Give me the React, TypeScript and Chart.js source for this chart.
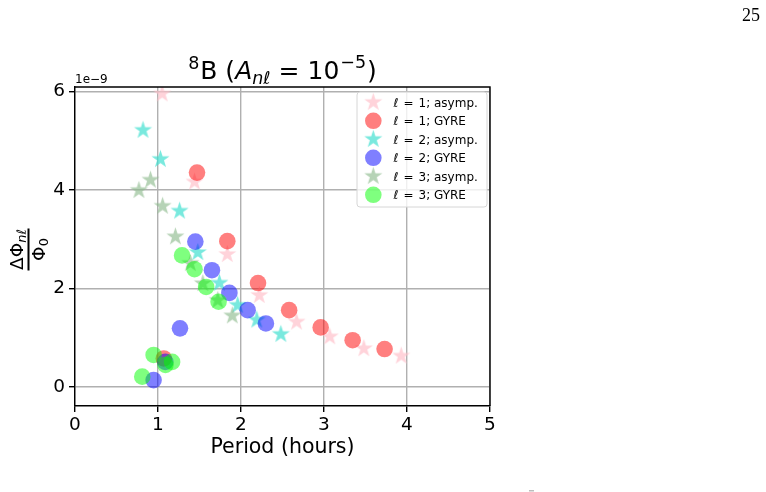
import { useEffect, useRef } from "react";
import { Chart, registerables } from "chart.js";

Chart.register(...registerables);

// Phase-shift amplitude ΔΦ/Φ0 (units of 1e-9) versus mode period (hours)
const ell1AsympPeriod = [1.05, 1.44, 1.835, 2.22, 2.67, 3.07, 3.48, 3.93];
const ell1AsympPhase = [5.95, 4.16, 2.69, 1.86, 1.32, 1.02, 0.78, 0.63];
const ell1GyrePeriod = [1.07, 1.47, 1.835, 2.205, 2.58, 2.96, 3.345, 3.73];
const ell1GyrePhase = [0.58, 4.35, 2.96, 2.11, 1.56, 1.21, 0.95, 0.77];
const ell2AsympPeriod = [0.82, 1.03, 1.26, 1.48, 1.74, 1.96, 2.19, 2.48];
const ell2AsympPhase = [5.21, 4.62, 3.57, 2.73, 2.11, 1.66, 1.36, 1.07];
const ell2GyrePeriod = [0.947, 1.088, 1.265, 1.45, 1.65, 1.86, 2.08, 2.3];
const ell2GyrePhase = [0.14, 0.51, 1.19, 2.95, 2.37, 1.91, 1.56, 1.29];
const ell3AsympPeriod = [0.77, 0.91, 1.055, 1.21, 1.39, 1.54, 1.72, 1.895];
const ell3AsympPhase = [3.99, 4.2, 3.67, 3.05, 2.51, 2.1, 1.76, 1.445];
const ell3GyrePeriod = [0.81, 0.947, 1.09, 1.17, 1.29, 1.44, 1.58, 1.73];
const ell3GyrePhase = [0.21, 0.65, 0.45, 0.51, 2.67, 2.39, 2.03, 1.73];

const seriesLabels = [
  "1; asymp.",
  "1; GYRE",
  "2; asymp.",
  "2; GYRE",
  "3; asymp.",
  "3; GYRE",
];

const xTicks = [0, 1, 2, 3, 4, 5];
const yTicks = [0, 2, 4, 6];
const yOffsetExponent = "1e\u22129";
const pageNumber = "25";

const FONT = "'DejaVu Sans', sans-serif";

const STAR_R = 9.5;
const CIRCLE_R = 8.3;

function makeStar(color: string, R: number): HTMLCanvasElement {
  const size = Math.ceil(R * 2 + 4);
  const c = document.createElement("canvas");
  c.width = size;
  c.height = size;
  const ctx = c.getContext("2d")!;
  const cx = size / 2;
  const cy = size / 2;
  const inner = R * 0.381966;
  ctx.beginPath();
  for (let i = 0; i < 10; i++) {
    const a = -Math.PI / 2 + (i * Math.PI) / 5;
    const r = i % 2 === 0 ? R : inner;
    const px = cx + r * Math.cos(a);
    const py = cy + r * Math.sin(a);
    if (i === 0) ctx.moveTo(px, py);
    else ctx.lineTo(px, py);
  }
  ctx.closePath();
  ctx.fillStyle = color;
  ctx.fill();
  return c;
}

function zip(xs: number[], ys: number[]) {
  return xs.map((x, i) => ({ x, y: ys[i] }));
}

type Run = { t: string; f: string; dy?: number; dx?: number };

function runsWidth(ctx: CanvasRenderingContext2D, runs: Run[]) {
  let w = 0;
  for (const r of runs) {
    ctx.font = r.f;
    w += ctx.measureText(r.t).width + (r.dx || 0);
  }
  return w;
}

function drawRuns(
  ctx: CanvasRenderingContext2D,
  runs: Run[],
  x: number,
  y: number,
  center: boolean
) {
  let cx = center ? x - runsWidth(ctx, runs) / 2 : x;
  ctx.textBaseline = "alphabetic";
  ctx.textAlign = "left";
  for (const r of runs) {
    ctx.font = r.f;
    cx += r.dx || 0;
    ctx.fillText(r.t, cx, y + (r.dy || 0));
    cx += ctx.measureText(r.t).width;
  }
}

export default function App() {
  const canvasRef = useRef<HTMLCanvasElement | null>(null);

  useEffect(() => {
    const canvas = canvasRef.current;
    if (!canvas) return;

    const colors = [
      "rgba(255,192,203,0.7)",
      "rgba(255,0,0,0.5)",
      "rgba(64,224,208,0.7)",
      "rgba(0,0,255,0.5)",
      "rgba(143,188,143,0.65)",
      "rgba(0,255,0,0.5)",
    ];
    const isStar = [true, false, true, false, true, false];
    const stars = colors.map((c) => makeStar(c, STAR_R));

    const seriesData = [
      zip(ell1AsympPeriod, ell1AsympPhase),
      zip(ell1GyrePeriod, ell1GyrePhase),
      zip(ell2AsympPeriod, ell2AsympPhase),
      zip(ell2GyrePeriod, ell2GyrePhase),
      zip(ell3AsympPeriod, ell3AsympPhase),
      zip(ell3GyrePeriod, ell3GyrePhase),
    ];

    const datasets = seriesData.map((data, i) => ({
      label: seriesLabels[i],
      data,
      order: 10 - i,
      pointStyle: isStar[i] ? (stars[i] as any) : "circle",
      pointRadius: isStar[i] ? STAR_R : CIRCLE_R,
      pointHoverRadius: isStar[i] ? STAR_R : CIRCLE_R,
      backgroundColor: colors[i],
      borderWidth: 0,
      borderColor: "rgba(0,0,0,0)",
      showLine: false,
    }));

    const decorations = {
      id: "decorations",
      afterDraw(chart: any) {
        const ctx: CanvasRenderingContext2D = chart.ctx;
        const area = chart.chartArea;
        ctx.save();

        // top and right spines
        ctx.strokeStyle = "#000";
        ctx.lineWidth = 1.4;
        ctx.beginPath();
        ctx.moveTo(area.left, area.top);
        ctx.lineTo(area.right, area.top);
        ctx.lineTo(area.right, area.bottom);
        ctx.stroke();

        ctx.fillStyle = "#000";

        // title
        const midX = (area.left + area.right) / 2;
        drawRuns(
          ctx,
          [
            { t: "8", f: `17.5px ${FONT}`, dy: -10 },
            { t: "B (", f: `25px ${FONT}`, dx: 1 },
            { t: "A", f: `italic 25px ${FONT}` },
            { t: "n\u2113", f: `italic 17.5px ${FONT}`, dy: 5 },
            { t: "=", f: `25px ${FONT}`, dx: 8 },
            { t: "10", f: `25px ${FONT}`, dx: 8 },
            { t: "\u22125", f: `17.5px ${FONT}`, dy: -11, dx: 1 },
            { t: ")", f: `25px ${FONT}`, dx: 1 },
          ],
          midX,
          79,
          true
        );

        // offset exponent
        ctx.font = `12px ${FONT}`;
        ctx.textAlign = "left";
        ctx.fillText(yOffsetExponent, area.left, 83);

        // x axis title
        ctx.font = `20.5px ${FONT}`;
        ctx.textAlign = "center";
        ctx.fillText("Period (hours)", midX, 453);

        // y axis title: fraction ΔΦ_nℓ / Φ_0, rotated
        ctx.save();
        ctx.translate(28.5, (area.top + area.bottom) / 2 + 3);
        ctx.rotate(-Math.PI / 2);
        ctx.fillRect(-21, -1, 42, 2);
        drawRuns(
          ctx,
          [
            { t: "\u0394\u03a6", f: `18.5px ${FONT}` },
            { t: "n\u2113", f: `italic 13px ${FONT}`, dy: 3 },
          ],
          0,
          -6,
          true
        );
        drawRuns(
          ctx,
          [
            { t: "\u03a6", f: `18.5px ${FONT}` },
            { t: "0", f: `13px ${FONT}`, dy: 3 },
          ],
          0,
          16,
          true
        );
        ctx.restore();

        // legend
        const lx = 357;
        const ly = 92;
        const lw = 130;
        const lh = 115;
        ctx.beginPath();
        ctx.roundRect(lx, ly, lw, lh, 3);
        ctx.fillStyle = "rgba(255,255,255,0.8)";
        ctx.fill();
        ctx.strokeStyle = "#d6d6d6";
        ctx.lineWidth = 1;
        ctx.stroke();
        for (let i = 0; i < 6; i++) {
          const cy = 102.3 + i * 18.5;
          const mx = 373.3;
          if (isStar[i]) {
            const s = stars[i];
            ctx.drawImage(s, mx - s.width / 2, cy - s.height / 2);
          } else {
            ctx.beginPath();
            ctx.arc(mx, cy, CIRCLE_R, 0, Math.PI * 2);
            ctx.fillStyle = colors[i];
            ctx.fill();
          }
          ctx.fillStyle = "#000";
          ctx.textAlign = "left";
          ctx.textBaseline = "alphabetic";
          ctx.font = `italic 12px ${FONT}`;
          ctx.fillText("\u2113", 393.5, cy + 4.4);
          ctx.font = `12px ${FONT}`;
          ctx.fillText("=", 403.5, cy + 4.4);
          ctx.fillText(seriesLabels[i], 418.5, cy + 4.4);
        }

        // page number
        ctx.fillStyle = "#000";
        ctx.font = `18px 'Liberation Serif', serif`;
        ctx.textAlign = "right";
        ctx.fillText(pageNumber, 760, 21);

        ctx.fillStyle = "#bdbdbd";
        ctx.fillRect(529, 490, 5, 1.5);

        ctx.restore();
      },
    };

    const tickFont = { family: FONT, size: 18.5 };

    const chart = new Chart(canvas, {
      type: "scatter",
      data: { datasets: datasets as any },
      options: {
        responsive: false,
        animation: false,
        events: [],
        layout: { padding: { left: 0, top: 87, right: 276, bottom: 0 } },
        plugins: {
          legend: { display: false },
          title: { display: false },
          tooltip: { enabled: false },
        },
        scales: {
          x: {
            type: "linear",
            min: xTicks[0],
            max: xTicks[xTicks.length - 1],
            afterBuildTicks: (s: any) => {
              s.ticks = xTicks.map((v) => ({ value: v }));
            },
            afterFit: (s: any) => {
              s.height = 86;
            },
            ticks: { font: tickFont, color: "#000", padding: 2, maxRotation: 0 },
            grid: {
              color: "#b0b0b0",
              lineWidth: 1.4,
              tickColor: "#000",
              tickLength: 6,
              tickWidth: 1.4,
            },
            border: { color: "#000", width: 1.4 },
          },
          y: {
            type: "linear",
            min: -0.385,
            max: 6.087,
            afterBuildTicks: (s: any) => {
              s.ticks = yTicks.map((v) => ({ value: v }));
            },
            afterFit: (s: any) => {
              s.width = 75;
            },
            ticks: { font: tickFont, color: "#000", padding: 4 },
            grid: {
              color: "#b0b0b0",
              lineWidth: 1.4,
              tickColor: "#000",
              tickLength: 6,
              tickWidth: 1.4,
            },
            border: { color: "#000", width: 1.4 },
          },
        },
      },
      plugins: [decorations],
    });

    return () => chart.destroy();
  }, []);

  return (
    <div
      style={{
        position: "absolute",
        left: 0,
        top: 0,
        width: 766,
        height: 492,
        background: "#fff",
      }}
    >
      <canvas
        ref={canvasRef}
        width={766}
        height={492}
        style={{ display: "block", width: 766, height: 492 }}
      />
    </div>
  );
}
